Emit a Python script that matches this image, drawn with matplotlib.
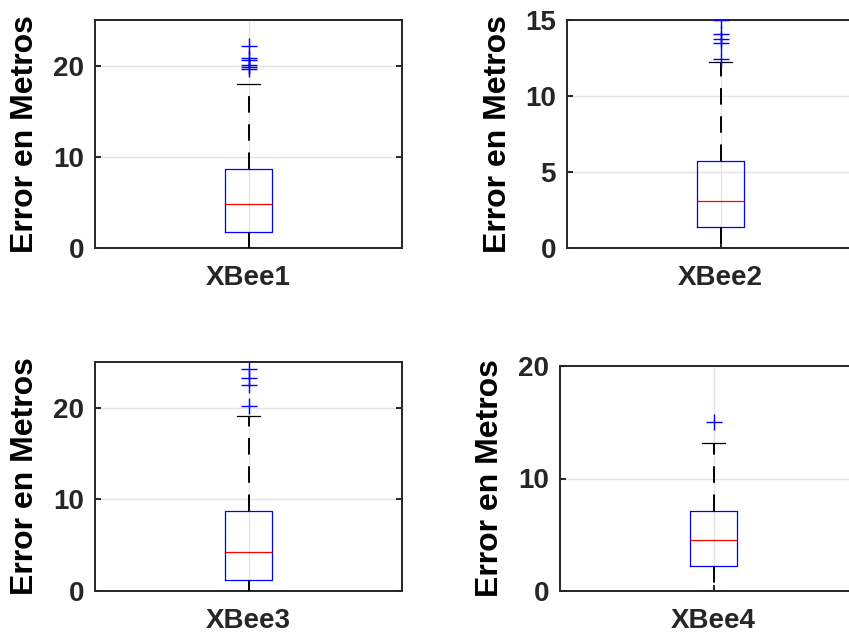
import matplotlib
matplotlib.use("Agg")
import matplotlib.pyplot as plt

plt.rcParams['font.family'] = ['Liberation Sans', 'DejaVu Sans']

# ---- data ----
names = ["XBee1", "XBee2", "XBee3", "XBee4"]
q1 = [1.75, 1.35, 1.2, 2.25]
med = [4.8, 3.1, 4.22, 4.53]
q3 = [8.7, 5.73, 8.72, 7.1]
whislo = [0.0, 0.0, 0.0, 0.0]
whishi = [18.0, 12.22, 19.08, 13.2]
fliers = [
    [19.6, 19.9, 20.1, 20.6, 20.8, 22.2],
    [12.42, 13.47, 13.77, 14.05, 14.97],
    [20.2, 22.5, 23.2, 24.2],
    [15.0],
]
ylims = [25, 15, 25, 20]
yticks = [[0, 10, 20], [0, 5, 10, 15], [0, 10, 20], [0, 10, 20]]

W, H = 849, 634
# axes rectangles in pixels: left, top, right, bottom
rects = [(95, 20, 402, 248), (567, 20, 874, 248),
         (95, 362, 402, 591), (560, 366, 867, 591)]
ylabel_x = [25, 498, 25, 490]

TXT = '#262626'
fig = plt.figure(figsize=(W / 100, H / 100), dpi=100)

for i in range(4):
    l, t, r, b = rects[i]
    ax = fig.add_axes([l / W, 1 - b / H, (r - l) / W, (b - t) / H])
    stats = [dict(med=med[i], q1=q1[i], q3=q3[i], whislo=whislo[i],
                  whishi=whishi[i], fliers=fliers[i], label=names[i])]
    ax.bxp(stats, positions=[1], widths=0.15, capwidths=0.072,
           boxprops=dict(color='#0000ff', linewidth=0.9),
           medianprops=dict(color='#ff0000', linewidth=0.9),
           whiskerprops=dict(color='black', linewidth=1.4,
                             linestyle=(0, (8.5, 6.0))),
           capprops=dict(color='black', linewidth=0.9),
           flierprops=dict(marker='+', markeredgecolor='#0000ff',
                           markersize=11, markeredgewidth=1.0),
           zorder=3)
    ax.set_xlim(0.5, 1.5)
    ax.set_ylim(0, ylims[i])
    ax.set_yticks(yticks[i])
    ax.set_xticks([1])
    ax.set_xticklabels([names[i]])
    ax.grid(True, color='#e5e5e5', linewidth=1.0, zorder=0)
    ax.set_axisbelow(True)
    for s in ax.spines.values():
        s.set_color(TXT)
        s.set_linewidth(1.4)
    ax.tick_params(axis='both', direction='in', length=4, width=1.4,
                   color=TXT, labelcolor=TXT, labelsize=20)
    ax.tick_params(axis='y', right=True, pad=8)
    ax.tick_params(axis='x', top=False, pad=12)
    for lab in ax.get_xticklabels() + ax.get_yticklabels():
        lab.set_fontweight('bold')
    ax.set_ylabel("Error en Metros", fontsize=23, fontweight='bold',
                  color='black', va='center')
    ax.yaxis.set_label_coords((ylabel_x[i] - l) / (r - l), 0.5)

fig.savefig("out.png", dpi=100)
